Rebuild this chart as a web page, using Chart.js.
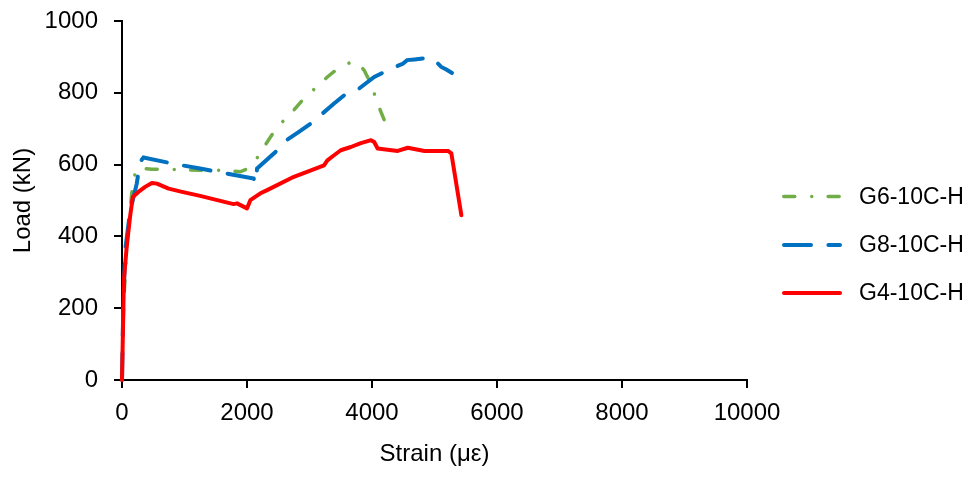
<!DOCTYPE html>
<html>
<head>
<meta charset="utf-8">
<script src="https://cdn.jsdelivr.net/npm/chart.js@4/dist/chart.umd.min.js"></script>
<style>
  body { margin: 0; background: #fff; }
  #wrap { width: 967px; height: 495px; }
</style>
</head>
<body>
<div id="wrap"><canvas id="chart"></canvas></div>
<script>
// Dados (deformação em με, carga em kN)
const g6Strain = [0, 25, 80, 156, 209, 240, 480, 880, 1250, 1625, 1890, 2000, 2055, 2160, 2270, 2480, 2700, 2910, 3125, 3285, 3473, 3673, 3780, 3875, 3955, 4047, 4133, 4210];
const g6Load   = [0, 210, 380, 520, 575, 590, 587, 586, 584, 584, 580, 588, 595, 618, 649, 704, 742, 784, 818, 844, 870, 886, 880, 863, 835, 793, 751, 718];

const g8Strain = [0, 20, 50, 130, 236, 290, 344, 800, 1250, 1520, 1800, 2107, 2135, 2161, 2455, 2589, 2830, 3018, 3393, 3555, 3715, 3795, 4036, 4277, 4492, 4562, 4680, 4921, 5001, 5108, 5189, 5280];
const g8Load   = [0, 200, 360, 470, 547, 608, 620, 603, 589, 580, 571, 561, 548, 589, 635, 663, 691, 714, 770, 793, 802, 812, 844, 865, 881, 891, 893, 898, 891, 872, 865, 855];

const g4Strain = [0, 30, 75, 129, 172, 263, 370, 478, 558, 745, 960, 1250, 1785, 1840, 2000, 2053, 2215, 2322, 2750, 3232, 3286, 3393, 3500, 3661, 3822, 3985, 4035, 4090, 4412, 4573, 4840, 5216, 5270, 5430];
const g4Load   = [0, 278, 371, 455, 510, 524, 538, 549, 547, 533, 524, 513, 490, 492, 478, 501, 520, 529, 566, 598, 612, 626, 640, 649, 660, 668, 663, 645, 638, 647, 638, 638, 631, 459];

const seriesLabels = ['G6-10C-H', 'G8-10C-H', 'G4-10C-H'];
const xTitle = 'Strain (με)';
const yTitle = 'Load (kN)';

const toPoints = (xs, ys) => xs.map((x, i) => ({ x: x, y: ys[i] }));

const fontFamily = "'Liberation Sans', Arial, sans-serif";

// Legenda desenhada à direita, com amostras de linha
const sideLegend = {
    id: 'sideLegend',
    afterDraw(chart) {
        const ctx = chart.ctx;
        const rows = [196.5, 245, 293];
        chart.data.datasets.forEach((ds, i) => {
            const y = rows[i];
            const cap = ds.borderCapStyle === 'round' ? ds.borderWidth / 2 : 0;
            ctx.save();
            ctx.strokeStyle = ds.borderColor;
            ctx.lineWidth = ds.borderWidth;
            ctx.lineCap = ds.borderCapStyle || 'butt';
            ctx.setLineDash(ds.borderDash || []);
            ctx.beginPath();
            ctx.moveTo(782 + cap, y);
            ctx.lineTo(842 - cap, y);
            ctx.stroke();
            ctx.restore();

            ctx.save();
            ctx.fillStyle = '#000';
            ctx.font = '23px ' + fontFamily;
            ctx.textBaseline = 'middle';
            ctx.fillText(ds.label, 859, y + 1);
            ctx.restore();
        });
    }
};

new Chart(document.getElementById('chart'), {
    type: 'scatter',
    data: {
        datasets: [
            {
                label: seriesLabels[0],
                data: toPoints(g6Strain, g6Load),
                showLine: true,
                borderColor: '#70ad47',
                borderWidth: 3.5,
                borderCapStyle: 'round',
                borderDash: [11, 17, 0.01, 16.4],
                pointRadius: 0,
                tension: 0,
                clip: 8,
                order: 2
            },
            {
                label: seriesLabels[1],
                data: toPoints(g8Strain, g8Load),
                showLine: true,
                borderColor: '#0070c0',
                borderWidth: 4,
                borderCapStyle: 'round',
                borderDash: [27, 17.4],
                pointRadius: 0,
                tension: 0,
                clip: 8,
                order: 1
            },
            {
                label: seriesLabels[2],
                data: toPoints(g4Strain, g4Load),
                showLine: true,
                borderColor: '#ff0000',
                borderWidth: 4,
                borderCapStyle: 'round',
                borderJoinStyle: 'round',
                pointRadius: 0,
                tension: 0,
                clip: 8,
                order: 0
            }
        ]
    },
    options: {
        responsive: true,
        maintainAspectRatio: false,
        animation: false,
        layout: { padding: { top: 21, right: 220, left: 0, bottom: 0 } },
        plugins: {
            legend: { display: false },
            tooltip: { enabled: false }
        },
        scales: {
            x: {
                type: 'linear',
                min: 0,
                max: 10000,
                ticks: { stepSize: 2000, color: '#000', font: { family: fontFamily, size: 24 }, padding: 11, maxRotation: 0,
                         callback: (v) => String(v) },
                grid: { drawOnChartArea: false, drawTicks: true, tickLength: 8, color: '#000', lineWidth: 2 },
                border: { color: '#000', width: 2 },
                title: { display: true, text: xTitle, color: '#000', font: { family: fontFamily, size: 24 }, padding: { bottom: 26 } },
                afterFit: (scale) => { scale.height = 115; scale.paddingLeft = 0; scale.paddingRight = 0; }
            },
            y: {
                min: 0,
                max: 1000,
                ticks: { stepSize: 200, color: '#000', font: { family: fontFamily, size: 24 }, padding: 16,
                         callback: (v) => String(v) },
                grid: { drawOnChartArea: false, drawTicks: true, tickLength: 8, color: '#000', lineWidth: 2 },
                border: { color: '#000', width: 2 },
                title: { display: true, text: yTitle, color: '#000', font: { family: fontFamily, size: 24 }, padding: { top: 9 } },
                afterFit: (scale) => { scale.width = 122; scale.paddingTop = 0; scale.paddingBottom = 0; }
            }
        }
    },
    plugins: [sideLegend]
});
</script>
</body>
</html>
